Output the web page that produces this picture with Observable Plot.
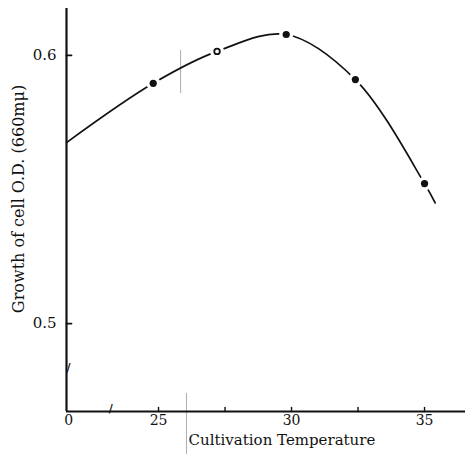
<!DOCTYPE html>
<html>
<head>
<meta charset="utf-8">
<script src="https://cdn.jsdelivr.net/npm/d3@7"></script>
<script src="https://cdn.jsdelivr.net/npm/@observablehq/plot@0.6"></script>
<style>
  html, body { margin: 0; padding: 0; background: #fff; }
</style>
</head>
<body>
<div id="chart"></div>
<script>
// Curve (drawn by hand in the original), including its start at the axis and its tail
const curveTemp = [21.54, 24.8, 27.2, 29.8, 32.4, 35.0, 35.4];
const curveOD   = [0.5675, 0.5896, 0.6015, 0.6078, 0.591, 0.5522, 0.545];

// Measured points
const pointTemp = [24.8, 29.8, 32.4, 35.0];
const pointOD   = [0.5896, 0.6078, 0.591, 0.5522];
const openTemp  = [27.2];
const openOD    = [0.6015];

// Axes
const xDomain = [21.54, 36.54];
const yDomain = [0.4672, 0.6175];
const xTickValues = [21.62, 25, 27.5, 30, 32.5, 35];
const xTickLabels = ["0", "25", "", "30", "", "35"];
const yTickValues = [0.5, 0.6];
const yTickLabels = ["0.5", "0.6"];
const xBreak = [23.2];
const yBreak = [0.4836];

// Scan marks on the page
const markX = [25.83, 26.05];
const markY1 = [0.6019, 0.4739];
const markY2 = [0.5858, 0.4511];

const yLabel = "Growth of cell O.D. (660mμ)";
const xLabel = "Cultivation Temperature";

const curve = curveTemp.map((t, i) => ({t, v: curveOD[i]}));
const pts = pointTemp.map((t, i) => ({t, v: pointOD[i]}));
const opens = openTemp.map((t, i) => ({t, v: openOD[i]}));
const marks = markX.map((x, i) => ({x, y1: markY1[i], y2: markY2[i]}));

const font = "'DejaVu Serif', 'Liberation Serif', serif";
const tickShape = {draw(context, l) { context.moveTo(0, 0); context.lineTo(0, -l); }};

const chart = Plot.plot({
  width: 469,
  height: 454,
  marginLeft: 66,
  marginRight: 4,
  marginTop: 8,
  marginBottom: 43,
  style: {fontFamily: font, fontSize: "13px", background: "#fff", color: "#111"},
  x: {domain: xDomain},
  y: {domain: yDomain},
  marks: [
    Plot.ruleX(marks, {x: "x", y1: "y1", y2: "y2", stroke: "#999", strokeWidth: 0.8}),
    Plot.line(curve, {x: "t", y: "v", curve: "catmull-rom", stroke: "#111", strokeWidth: 1.7}),
    Plot.dot(pts.concat(opens), {x: "t", y: "v", r: 7, fill: "#fff", stroke: "none"}),
    Plot.dot(pts, {x: "t", y: "v", r: 3.6, fill: "#111", stroke: "none"}),
    Plot.dot(opens, {x: "t", y: "v", r: 2.8, fill: "#fff", stroke: "#111", strokeWidth: 1.8}),
    Plot.ruleX([xDomain[0]], {stroke: "#111", strokeWidth: 2.2}),
    Plot.ruleY([yDomain[0]], {stroke: "#111", strokeWidth: 2.2}),
    // inward tick marks
    Plot.vector(xTickValues.slice(1), {x: d => d, frameAnchor: "bottom", length: 4, rotate: 0, anchor: "start",
      shape: tickShape, stroke: "#111", strokeWidth: 1.4}),
    Plot.vector(yTickValues, {y: d => d, frameAnchor: "left", length: 5, rotate: 90, anchor: "start",
      shape: tickShape, stroke: "#111", strokeWidth: 1.8}),
    Plot.axisX({ticks: xTickValues, tickFormat: (d, i) => xTickLabels[i], tickSize: 0, tickPadding: 4,
      label: null, fontSize: 14}),
    Plot.axisY({ticks: yTickValues, tickFormat: (d, i) => yTickLabels[i], tickSize: 0, tickPadding: 10,
      label: null, fontSize: 15}),
    Plot.text(xBreak, {x: d => d, frameAnchor: "bottom", text: () => "/", fontSize: 11, fontWeight: "bold", fill: "#111"}),
    Plot.text(yBreak, {y: d => d, frameAnchor: "left", text: () => "/", fontSize: 11, fontWeight: "bold", fill: "#111"}),
    Plot.text([xLabel], {x: [26.13], frameAnchor: "bottom", text: d => d, textAnchor: "start", dy: 33,
      fontSize: 15, fill: "#111"}),
    Plot.text([yLabel], {frameAnchor: "left", text: d => d, textAnchor: "middle", rotate: -90, dx: -48, dy: -11,
      fontSize: 16, fill: "#111"})
  ]
});
document.getElementById("chart").appendChild(chart);
</script>
</body>
</html>
